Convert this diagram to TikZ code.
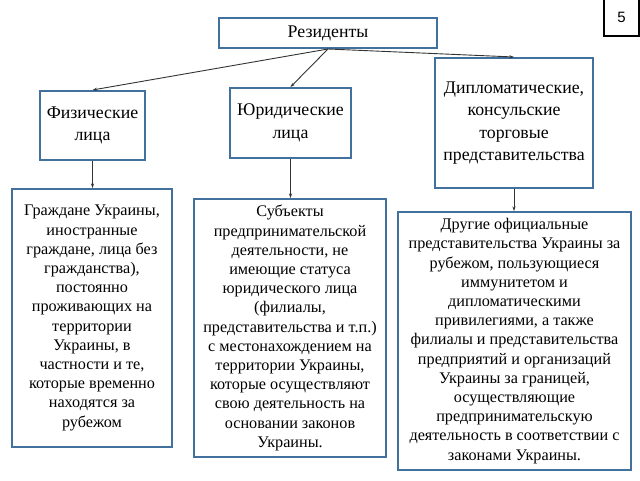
\documentclass[tikz,border=0pt]{standalone}
\usepackage{fontspec}
\setmainfont{Liberation Serif}
\setsansfont{Liberation Sans}
\usepackage{xcolor}
\usepackage{tikz}
\usetikzlibrary{arrows.meta}
\definecolor{framec}{HTML}{41719C}
\definecolor{linec}{HTML}{333333}
\tikzset{
  ar/.style={-{Stealth[length=1.6mm,width=1.1mm]},line width=0.9pt,linec},
  box/.style={draw=framec,line width=2pt,fill=white,align=center,inner sep=0pt,font=\fontsize{16.2}{19.2}\selectfont},
  headbox/.style={box,font=\fontsize{17.8}{22.5}\selectfont}
}

\begin{document}
\begin{tikzpicture}[x=1pt,y=1pt]
\useasboundingbox[fill=white] (0,0) rectangle (640,480);
\node[headbox,minimum width=218,minimum height=30] (res) at (328,447) {Резиденты};
\node[headbox,minimum width=105,minimum height=69] (fiz) at (92.5,354.5) {Физические\\лица};
\node[headbox,minimum width=121,minimum height=70] (yur) at (290.5,357) {Юридические\\лица};
\node[headbox,minimum width=158,minimum height=130] (dip) at (514,357) {Дипломатические,\\консульские\\торговые\\представительства};
\node[box,minimum width=160,minimum height=258] (grazh) at (92,162) {Граждане Украины,\\иностранные\\граждане, лица без\\гражданства),\\постоянно\\проживающих на\\территории\\Украины, в\\частности и те,\\которые временно\\находятся за\\рубежом};
\node[box,minimum width=192,minimum height=258] (subj) at (290,152) {Субъекты\\предпринимательской\\деятельности, не\\имеющие статуса\\юридического лица\\(филиалы,\\представительства и т.п.)\\с местонахождением на\\территории Украины,\\которые осуществляют\\свою деятельность на\\основании законов\\Украины.};
\node[box,minimum width=233,minimum height=258] (drug) at (514.5,139) {Другие официальные\\представительства Украины за\\рубежом, пользующиеся\\иммунитетом и\\дипломатическими\\привилегиями, а также\\филиалы и представительства\\предприятий и организаций\\Украины за границей,\\осуществляющие\\предпринимательскую\\деятельность в соответствии с\\законами Украины.};
\node[draw=black,line width=2pt,minimum width=35,minimum height=38,inner sep=0pt,font=\sffamily\fontsize{15}{18}\selectfont] (num) at (621.5,463) {5};
\draw[ar] (res.south) -- (fiz.north);
\draw[ar] (res.south) -- (yur.north);
\draw[ar] (res.south) -- (dip.north);
\draw[ar] (fiz.south) -- (fiz.south |- grazh.north);
\draw[ar] (yur.south) -- (yur.south |- subj.north);
\draw[ar] (dip.south) -- (dip.south |- drug.north);
\end{tikzpicture}
\end{document}
